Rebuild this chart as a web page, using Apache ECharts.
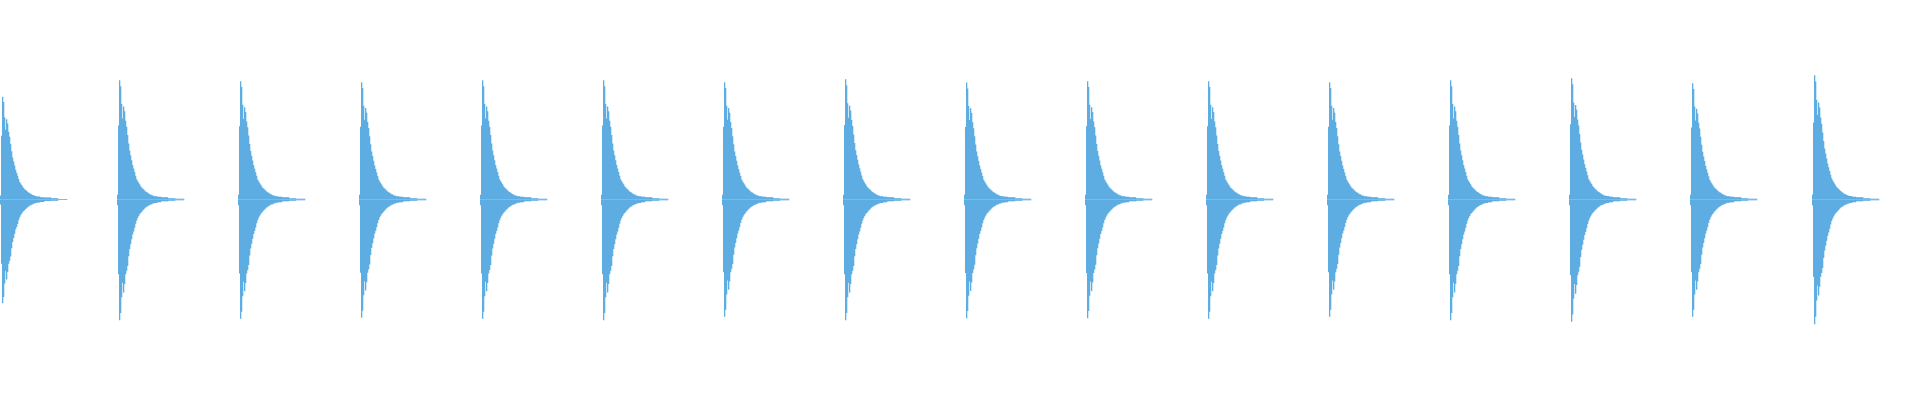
<!DOCTYPE html>
<html>
<head>
<meta charset="utf-8">
<script src="https://cdn.jsdelivr.net/npm/echarts@6/dist/echarts.min.js"></script>
<style>
  html, body { margin: 0; padding: 0; background: #ffffff; }
  #chart { width: 1920px; height: 400px; }
</style>
</head>
<body>
<div id="chart"></div>
<script>
// Onset of each drum hit (sample index, 1 sample per column)
const onsetSample = [0, 117, 238, 359, 480, 601, 722, 843, 964, 1085, 1206, 1327, 1448, 1569, 1690, 1812];
// Peak amplitude of each hit (normalised, full scale = 1)
const peakUpper = [0.515, 0.598, 0.593, 0.588, 0.598, 0.598, 0.588, 0.603, 0.586, 0.593, 0.593, 0.588, 0.598, 0.608, 0.583, 0.623];
const peakLower = [0.520, 0.605, 0.598, 0.593, 0.598, 0.605, 0.588, 0.605, 0.595, 0.595, 0.598, 0.588, 0.605, 0.613, 0.588, 0.625];
// Decay envelope of one hit, relative to its peak (upper / lower halves)
const envelopeUpper = [0.04, 0.62, 1.00, 0.95, 0.80, 0.68, 0.78, 0.74, 0.66, 0.61,
  0.54, 0.47, 0.41, 0.37, 0.33, 0.29, 0.26, 0.23, 0.20, 0.17,
  0.155, 0.14, 0.127, 0.112, 0.10, 0.093, 0.085, 0.076, 0.068, 0.062,
  0.057, 0.051, 0.045, 0.042, 0.036, 0.034, 0.031, 0.028, 0.028, 0.028,
  0.023, 0.023, 0.023, 0.023,
  0.019, 0.019, 0.019, 0.019, 0.019, 0.019, 0.019,
  0.011, 0.011, 0.011, 0.011, 0.011, 0.011, 0.011,
  0.006, 0.006, 0.006, 0.006, 0.006, 0.006, 0.006, 0.006, 0.006];
const envelopeLower = [0.048, 0.62, 1.00, 0.94, 0.81, 0.69, 0.77, 0.70, 0.62, 0.59,
  0.55, 0.47, 0.41, 0.37, 0.33, 0.29, 0.265, 0.235, 0.20, 0.173,
  0.153, 0.137, 0.123, 0.111, 0.103, 0.092, 0.084, 0.075, 0.067, 0.061,
  0.056, 0.050, 0.045, 0.042, 0.039, 0.034, 0.033, 0.028, 0.028, 0.028,
  0.023, 0.023, 0.023, 0.023,
  0.014, 0.014, 0.014, 0.014, 0.014, 0.014, 0.014,
  0.011, 0.011, 0.011, 0.011, 0.011, 0.011, 0.011,
  0.006, 0.006, 0.006, 0.006, 0.006, 0.006, 0.006, 0.006, 0.006];
const totalSamples = 1920;

// One column per sample: [start, end, value]
function buildColumns(peaks, env, sign) {
  const cols = [];
  onsetSample.forEach((on, h) => {
    env.forEach((e, i) => cols.push([on + i, on + i + 1, sign * peaks[h] * e]));
  });
  return cols;
}

function renderColumn(params, api) {
  const p0 = api.coord([api.value(0), 0]);
  const p1 = api.coord([api.value(1), api.value(2)]);
  const x = p0[0], w = p1[0] - p0[0];
  const y = Math.min(p0[1], p1[1]);
  const h = Math.max(Math.abs(p1[1] - p0[1]), 0.6);
  return {
    type: 'rect',
    shape: { x: x, y: y, width: w + 0.3, height: h },
    style: { fill: '#5DADE2' },
    silent: true
  };
}

const chart = echarts.init(document.getElementById('chart'), null, { renderer: 'canvas' });
chart.setOption({
  animation: false,
  backgroundColor: '#ffffff',
  grid: { left: 0, right: 0, top: 0, bottom: 1 },
  xAxis: { type: 'value', min: 0, max: totalSamples, show: false },
  yAxis: { type: 'value', min: -1, max: 1, show: false },
  series: [
    {
      type: 'custom', renderItem: renderColumn, silent: true,
      encode: { x: [0, 1], y: 2 },
      data: buildColumns(peakUpper, envelopeUpper, 1)
    },
    {
      type: 'custom', renderItem: renderColumn, silent: true,
      encode: { x: [0, 1], y: 2 },
      data: buildColumns(peakLower, envelopeLower, -1)
    }
  ]
});
</script>
</body>
</html>
